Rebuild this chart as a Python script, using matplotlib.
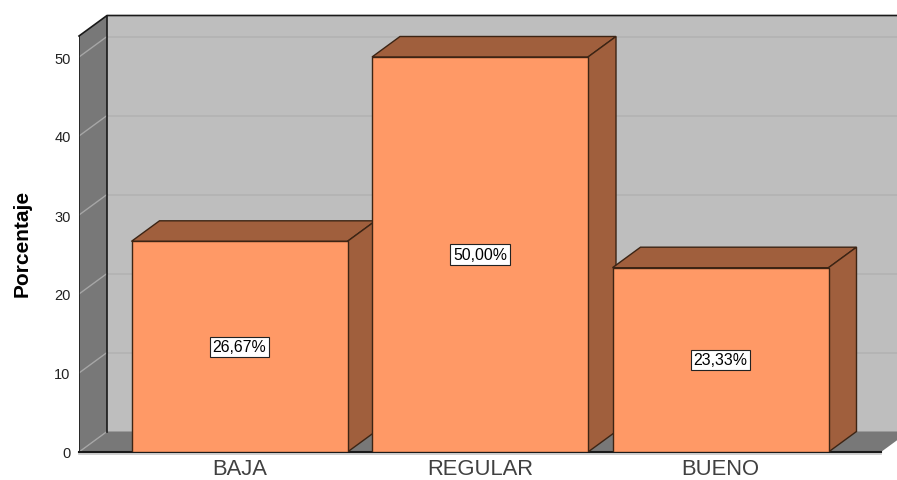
import matplotlib
matplotlib.use("Agg")
import matplotlib.pyplot as plt
from matplotlib.patches import Polygon

categories = ["BAJA", "REGULAR", "BUENO"]
percent = [26.67, 50.00, 23.33]
y_ticks = [0, 10, 20, 30, 40, 50]

plt.rcParams['font.family'] = ['Liberation Sans', 'DejaVu Sans']

W, H = 897, 481
# axes pixels: y=0 sits on pixel row 453, the x axis starts at column 79
x_per_cat = 240.5
y_per_unit = 7.9
left_px, base_px, cat0_px = 79, 453, 239.5

dx = 28 / x_per_cat      # depth of the fake 3d box
dy = 20.5 / y_per_unit
x0 = (left_px - cat0_px) / x_per_cat
x1 = (881 - cat0_px) / x_per_cat
xmax = (W - cat0_px) / x_per_cat
ymax = base_px / y_per_unit
ytop = (base_px - 37) / y_per_unit
bar_w = 216 / x_per_cat

wall = "#BEBEBE"
side = "#787878"
edge = "#1A1A1A"
front = "#FF9966"
shade = "#A05F3D"
bar_edge = "#3C2414"

fig = plt.figure(figsize=(W / 100, H / 100), dpi=100)
ax = fig.add_axes([left_px / W, 1 - base_px / H, 1 - left_px / W, base_px / H])
ax.set_xlim(x0, xmax)
ax.set_ylim(0, ymax)
ax.patch.set_alpha(0)
for s in ax.spines.values():
    s.set_visible(False)

def poly(pts, fc, ec="none", lw=0, z=1):
    ax.add_patch(Polygon(pts, closed=True, facecolor=fc, edgecolor=ec, linewidth=lw,
                         zorder=z, clip_on=True, joinstyle="miter"))

# back wall, left wall, floor
poly([(x0 + dx, dy), (xmax + 1, dy), (xmax + 1, ytop + dy), (x0 + dx, ytop + dy)], wall)
poly([(x0, 0), (x0 + dx, dy), (x0 + dx, ytop + dy), (x0, ytop)], side)
poly([(x0, 0), (x1, 0), (x1 + dx, dy), (x0 + dx, dy)], side)

# grid lines run along the back wall and down the left wall
for t in y_ticks:
    if t > 0:
        ax.plot([x0 + dx, xmax], [t + dy, t + dy], color="#B4B4B4", lw=1.3, zorder=2)
    ax.plot([x0, x0 + dx], [t, t + dy], color="#A6A6A6", lw=1, zorder=2)

# box outline
ax.plot([x0 + dx, x0 + dx], [dy, ytop + dy], color=edge, lw=1.2, zorder=3)
ax.plot([x0, x0 + dx, xmax], [ytop, ytop + dy, ytop + dy], color=edge, lw=1.2, zorder=3, clip_on=False)
ax.plot([x0, x0], [0, ytop], color=edge, lw=1.2, zorder=3)
ax.plot([x0, x1], [-0.3, -0.3], color="#C8C8C8", lw=1.2, zorder=2, clip_on=False)
ax.plot([x0, x1], [0, 0], color=edge, lw=1.5, zorder=3, clip_on=False)

# bars, each with its top and side faces
for i, v in enumerate(percent):
    l = i - bar_w / 2
    r = i + bar_w / 2
    poly([(l, v), (r, v), (r + dx, v + dy), (l + dx, v + dy)], shade, bar_edge, 1, 4)
    poly([(r, 0), (r + dx, dy), (r + dx, v + dy), (r, v)], shade, bar_edge, 1, 4)
ax.bar(range(len(categories)), percent, width=bar_w, color=front, edgecolor=bar_edge,
       linewidth=1, zorder=5)

for i, v in enumerate(percent):
    ax.text(i, v / 2, f"{v:.2f}%".replace(".", ","), ha="center", va="center", fontsize=11.4,
            color="black", zorder=6,
            bbox=dict(boxstyle="square,pad=0.16", fc="white", ec="#222222", lw=0.8))

ax.set_yticks(y_ticks)
ax.set_xticks(range(len(categories)))
ax.set_xticklabels(categories, fontsize=15.8, color="#404040")
ax.tick_params(axis="y", length=0, pad=6, labelsize=10.5, labelcolor="#222222")
ax.tick_params(axis="x", length=0, pad=4)

fig.text(22 / W, 1 - 243 / H, "Porcentaje", rotation=90, ha="center", va="center",
         fontsize=15, fontweight="bold", color="black")

fig.savefig("out.png", dpi=100)
